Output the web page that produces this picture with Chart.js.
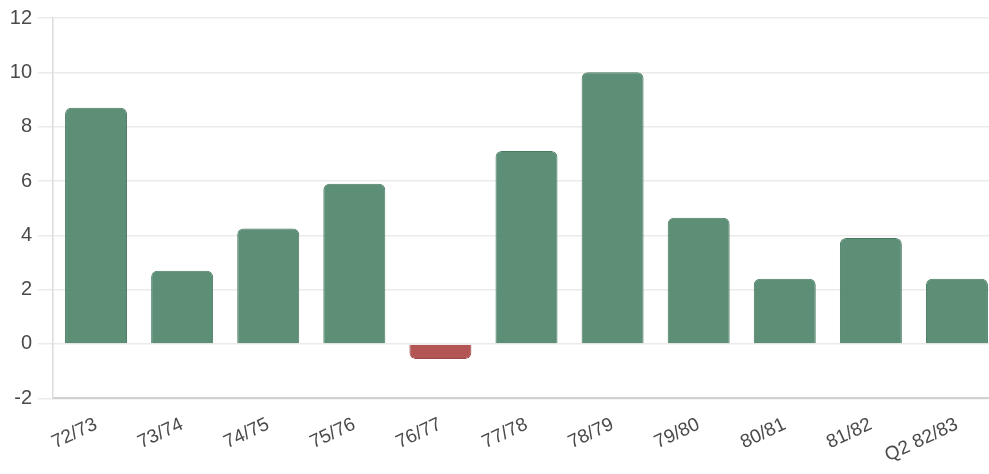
<!DOCTYPE html>
<html>
<head>
<meta charset="utf-8">
<script src="https://cdn.jsdelivr.net/npm/chart.js@4/dist/chart.umd.min.js"></script>
<style>
  html, body { margin: 0; padding: 0; background: #fff; overflow: hidden; }
  #wrap { position: absolute; left: 0; top: 0; width: 1000px; height: 474px; }
</style>
</head>
<body>
<div id="wrap"><canvas id="growthChart"></canvas></div>
<script>
// Seasons on the category axis
const seasons = ['72/73', '73/74', '74/75', '75/76', '76/77', '77/78', '78/79', '79/80', '80/81', '81/82', 'Q2 82/83'];

// Values
const growth = [8.7, 2.7, 4.25, 5.9, -0.55, 7.1, 10.0, 4.65, 2.4, 3.9, 2.4];

// Y axis range and step
const yMin = -2;
const yMax = 12;
const yStep = 2;

const GREEN = 'rgba(78, 134, 106, 0.92)';
const GREEN_EDGE = '#4a7c62';
const RED = 'rgba(172, 70, 70, 0.92)';
const RED_EDGE = '#a04545';

const ctx = document.getElementById('growthChart').getContext('2d');

new Chart(ctx, {
    type: 'bar',
    data: {
        labels: seasons,
        datasets: [{
            data: growth,
            backgroundColor: growth.map(v => v < 0 ? RED : GREEN),
            borderColor: growth.map(v => v < 0 ? RED_EDGE : GREEN_EDGE),
            borderWidth: 1,
            borderRadius: 6,
            borderSkipped: 'start'
        }]
    },
    options: {
        responsive: true,
        maintainAspectRatio: false,
        animation: false,
        layout: { padding: { top: 5, left: 0, right: 0, bottom: 0 } },
        plugins: {
            legend: { display: false },
            tooltip: { enabled: false }
        },
        scales: {
            x: {
                grid: { display: false },
                border: { display: true, color: '#d0d0d0', width: 2 },
                ticks: {
                    color: '#4a4a4a',
                    font: { family: 'Liberation Sans', size: 19 },
                    minRotation: 25,
                    maxRotation: 25,
                    padding: 7
                }
            },
            y: {
                min: yMin,
                max: yMax,
                afterFit: (scale) => { scale.width = 53; },
                grid: { color: '#ebebeb', tickLength: 15, lineWidth: 1.5 },
                border: { display: true, color: '#dcdcdc', width: 1.5 },
                ticks: {
                    stepSize: yStep,
                    color: '#4a4a4a',
                    padding: 6,
                    font: { family: 'Liberation Sans', size: 20 }
                }
            }
        }
    }
});
</script>
</body>
</html>
